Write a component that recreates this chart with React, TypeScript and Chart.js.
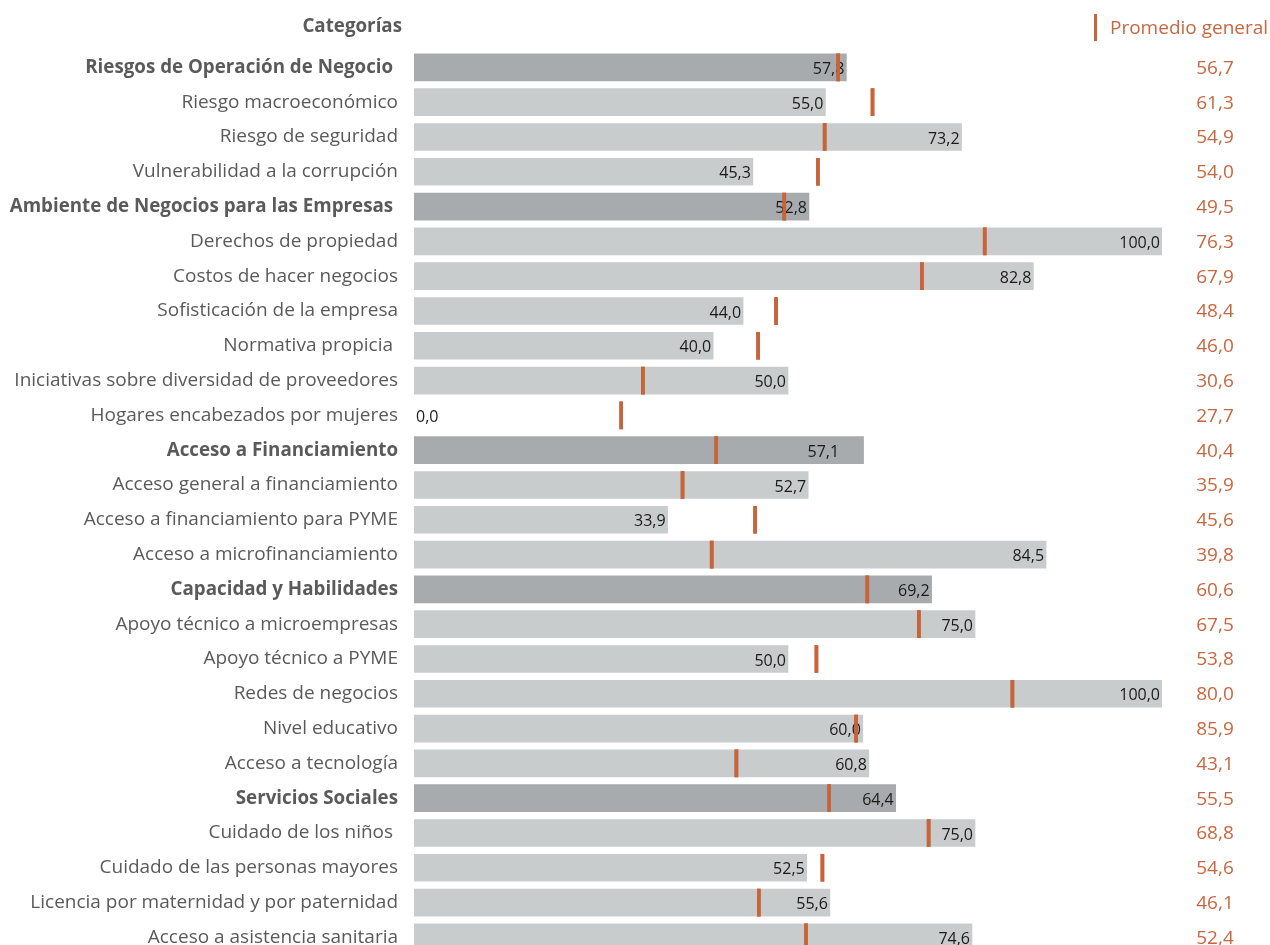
import React, { useEffect, useRef } from "react";
import { Chart, registerables } from "chart.js";

Chart.register(...registerables);

const categories: string[] = [
  "Riesgos de Operación de Negocio ",
  "Riesgo macroeconómico",
  "Riesgo de seguridad",
  "Vulnerabilidad a la corrupción",
  "Ambiente de Negocios para las Empresas ",
  "Derechos de propiedad",
  "Costos de hacer negocios",
  "Sofisticación de la empresa",
  "Normativa propicia ",
  "Iniciativas sobre diversidad de proveedores",
  "Hogares encabezados por mujeres",
  "Acceso a Financiamiento",
  "Acceso general a financiamiento",
  "Acceso a financiamiento para PYME",
  "Acceso a microfinanciamiento",
  "Capacidad y Habilidades",
  "Apoyo técnico a microempresas",
  "Apoyo técnico a PYME",
  "Redes de negocios",
  "Nivel educativo",
  "Acceso a tecnología",
  "Servicios Sociales",
  "Cuidado de los niños ",
  "Cuidado de las personas mayores",
  "Licencia por maternidad y por paternidad",
  "Acceso a asistencia sanitaria",
];

const isGroup: boolean[] = [
  true, false, false, false,
  true, false, false, false, false, false, false,
  true, false, false, false,
  true, false, false, false, false, false,
  true, false, false, false, false,
];

// Scores as printed on the bars
const scores: number[] = [
  57.8, 55.0, 73.2, 45.3,
  52.8, 100.0, 82.8, 44.0, 40.0, 50.0, 0.0,
  57.1, 52.7, 33.9, 84.5,
  69.2, 75.0, 50.0, 100.0, 60.0, 60.8,
  64.4, 75.0, 52.5, 55.6, 74.6,
];

// Bar lengths as drawn
const barLengths: number[] = [
  57.8, 55.0, 73.2, 45.3,
  52.8, 100.0, 82.8, 44.0, 40.0, 50.0, 0.0,
  60.1, 52.7, 33.9, 84.5,
  69.2, 75.0, 50.0, 100.0, 60.0, 60.8,
  64.4, 75.0, 52.5, 55.6, 74.6,
];

// Promedio general as printed in the right column
const promedioLabels: number[] = [
  56.7, 61.3, 54.9, 54.0,
  49.5, 76.3, 67.9, 48.4, 46.0, 30.6, 27.7,
  40.4, 35.9, 45.6, 39.8,
  60.6, 67.5, 53.8, 80.0, 85.9, 43.1,
  55.5, 68.8, 54.6, 46.1, 52.4,
];

// Promedio general marker positions as drawn on the bars
const promedioMarkers: number[] = [
  56.7, 61.3, 54.9, 54.0,
  49.5, 76.3, 67.9, 48.4, 46.0, 30.6, 27.7,
  40.4, 35.9, 45.6, 39.8,
  60.6, 67.5, 53.8, 80.0, 59.1, 43.1,
  55.5, 68.8, 54.6, 46.1, 52.4,
];

const DARK_BAR = "#A7ABAD";
const LIGHT_BAR = "#C9CCCD";
const ORANGE = "#C8643A";
const ORANGE_TEXT = "#C8673F";
const LABEL_GRAY = "#5A5A5A";
const FONT = "'Open Sans', 'Noto Sans', sans-serif";

const fmt = (v: number) => v.toFixed(1).replace(".", ",");

export default function App() {
  const ref = useRef<HTMLCanvasElement>(null);

  useEffect(() => {
    if (!ref.current) return;

    const overlay = {
      id: "overlay",
      afterDatasetsDraw(chart: any) {
        const ctx = chart.ctx;
        const xScale = chart.scales.x;
        const meta = chart.getDatasetMeta(1);
        ctx.save();
        ctx.font = `16px ${FONT}`;
        ctx.fillStyle = "#1A1A1A";
        ctx.textBaseline = "middle";
        meta.data.forEach((bar: any, i: number) => {
          const v = scores[i];
          if (v === 0) {
            ctx.textAlign = "left";
            ctx.fillText(fmt(v), bar.base + 2, bar.y + 2);
          } else {
            ctx.textAlign = "right";
            ctx.fillText(fmt(v), xScale.getPixelForValue(v) - 2, bar.y + 2);
          }
        });
        const mMeta = chart.getDatasetMeta(0);
        mMeta.data.forEach((el: any) => el.draw(ctx));
        ctx.restore();
      },
      afterDraw(chart: any) {
        const ctx = chart.ctx;
        const yScale = chart.scales.y;
        ctx.save();
        ctx.textBaseline = "middle";
        ctx.font = `19px ${FONT}`;
        ctx.fillStyle = ORANGE_TEXT;
        ctx.textAlign = "center";
        promedioLabels.forEach((v, i) => {
          ctx.fillText(fmt(v), 1215, yScale.getPixelForValue(i) + 1);
        });
        ctx.font = `bold 18.75px ${FONT}`;
        ctx.fillStyle = LABEL_GRAY;
        ctx.textAlign = "right";
        ctx.fillText("Categorías", 402, 27);
        ctx.fillStyle = ORANGE;
        ctx.fillRect(1094, 14, 3, 27);
        ctx.font = `19px ${FONT}`;
        ctx.fillStyle = ORANGE_TEXT;
        ctx.textAlign = "left";
        ctx.fillText("Promedio general", 1110, 29);
        ctx.restore();
      },
    };

    const chart = new Chart(ref.current, {
      type: "bar",
      data: {
        labels: categories,
        datasets: [
          {
            label: "Promedio general",
            data: promedioMarkers.map((v) => [v - 0.2, v + 0.2]) as any,
            backgroundColor: ORANGE,
            grouped: false,
            order: 0,
            barThickness: 27,
          } as any,
          {
            label: "Puntaje",
            data: barLengths,
            backgroundColor: barLengths.map((v, i) =>
              v === 0 ? "rgba(0,0,0,0)" : isGroup[i] ? DARK_BAR : LIGHT_BAR
            ),
            grouped: false,
            order: 1,
            barThickness: 27,
          } as any,
        ],
      },
      plugins: [overlay],
      options: {
        indexAxis: "y",
        animation: false,
        responsive: false,
        maintainAspectRatio: false,
        layout: { padding: { left: 0, right: 108, top: 50, bottom: 8 } },
        plugins: {
          legend: { display: false },
          tooltip: { enabled: false },
        },
        scales: {
          x: {
            display: false,
            min: 0,
            max: 100,
          },
          y: {
            grid: { display: false, drawTicks: false },
            border: { display: false },
            afterFit(scale: any) {
              scale.width = 414;
            },
            ticks: {
              padding: 16,
              autoSkip: false,
              color: LABEL_GRAY,
              font: (c: any) =>
                isGroup[c.index]
                  ? { family: FONT, size: 18.75, weight: "bold" }
                  : { family: FONT, size: 19, weight: "normal" },
            },
          },
        },
      },
    });
    return () => chart.destroy();
  }, []);

  return (
    <div
      style={{
        position: "fixed",
        left: 0,
        top: 0,
        width: 1270,
        height: 945,
        overflow: "hidden",
        background: "#fff",
      }}
    >
      <canvas ref={ref} width={1270} height={982} style={{ display: "block" }} />
    </div>
  );
}
